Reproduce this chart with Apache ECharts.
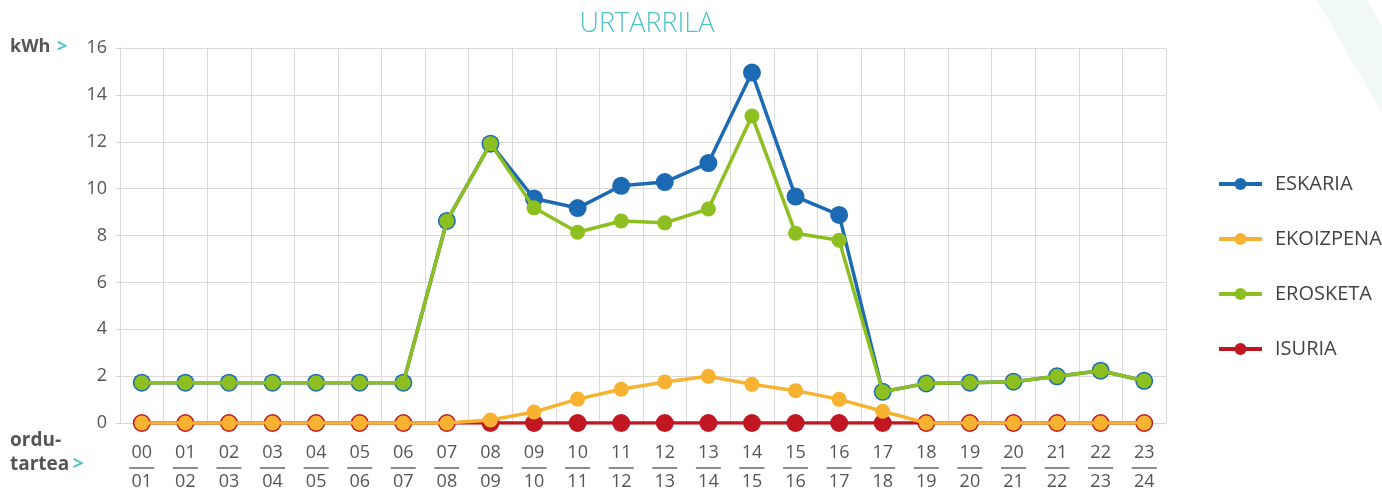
<!DOCTYPE html>
<html>
<head>
<meta charset="utf-8">
<script src="https://cdn.jsdelivr.net/npm/echarts@6/dist/echarts.min.js"></script>
<style>html,body{margin:0;padding:0;background:#fff}#c{width:1382px;height:492px}</style>
</head>
<body>
<div id="c"></div>
<script>
var categories = ['00','01','02','03','04','05','06','07','08','09','10','11','12','13','14','15','16','17','18','19','20','21','22','23'];
var categoriesEnd = ['01','02','03','04','05','06','07','08','09','10','11','12','13','14','15','16','17','18','19','20','21','22','23','24'];
var eskaria = [1.72,1.72,1.72,1.72,1.72,1.72,1.72,8.62,11.92,9.58,9.17,10.12,10.28,11.09,14.95,9.66,8.88,1.33,1.69,1.72,1.76,1.99,2.23,1.8];
var ekoizpena = [0,0,0,0,0,0,0,0,0.13,0.47,1.02,1.44,1.75,1.99,1.65,1.38,1.01,0.5,0,0,0,0,0,0];
var erosketa = [1.72,1.72,1.72,1.72,1.72,1.72,1.72,8.62,11.92,9.18,8.14,8.62,8.54,9.13,13.1,8.1,7.8,1.33,1.69,1.72,1.76,1.99,2.23,1.8];
var isuria = [0,0,0,0,0,0,0,0,0,0,0,0,0,0,0,0,0,0,0,0,0,0,0,0];
var yTicks = [0,2,4,6,8,10,12,14,16];
var seriesNames = ['ESKARIA','EKOIZPENA','EROSKETA','ISURIA'];

var chart = echarts.init(document.getElementById('c'));
var FONT = '"Open Sans", "Noto Sans", sans-serif';
function lineSeries(name, data, color, size, z) {
  return {
    name: name, type: 'line', data: data, z: z,
    symbol: 'circle', symbolSize: size,
    lineStyle: {color: color, width: 3.5},
    itemStyle: {color: color, borderWidth: 0},
    emphasis: {disabled: true},
    animation: false
  };
}
chart.setOption({
  animation: false,
  title: {
    text: 'URTARRILA', left: 642, top: 6, textAlign: 'center',
    textStyle: {color: '#4fc3c6', fontSize: 27, fontWeight: 300, fontFamily: FONT}
  },
  legend: {
    orient: 'vertical', left: 1212, top: 169, itemGap: 35,
    itemWidth: 43, itemHeight: 15,
    data: seriesNames,
    lineStyle: {width: 4},
    textStyle: {color: '#444', fontSize: 20, fontFamily: FONT, padding: [0,0,0,8]}
  },
  grid: {left: 120, right: 216, top: 48, bottom: 69, containLabel: false},
  xAxis: {
    type: 'category', data: categories, boundaryGap: true,
    axisLine: {show: true, lineStyle: {color: '#d6d6d6', width: 1}},
    axisTick: {show: false},
    splitLine: {show: true, interval: 0, lineStyle: {color: '#dadada', width: 1}},
    axisLabel: {
      interval: 0, margin: 20,
      formatter: function (v, i) { return '{a|' + v + '}\n{l| }\n{b|' + categoriesEnd[i] + '}'; },
      rich: {
        a: {fontSize: 18, lineHeight: 20, color: '#555', fontFamily: FONT, align: 'center'},
        l: {width: 25, height: 2, lineHeight: 10, fontSize: 1, backgroundColor: '#8a8a8a', align: 'center'},
        b: {fontSize: 18, lineHeight: 18, color: '#555', fontFamily: FONT, align: 'center'}
      }
    }
  },
  yAxis: {
    type: 'value', min: 0, max: 16, interval: 2,
    axisLine: {show: true, lineStyle: {color: '#dadada'}},
    axisTick: {show: true, length: 4, lineStyle: {color: '#d6d6d6'}},
    splitLine: {show: true, lineStyle: {color: '#dadada', width: 1}},
    axisLabel: {
      margin: 13, color: '#555', fontSize: 18, fontFamily: FONT,
      formatter: function (v) { return yTicks.indexOf(v) >= 0 ? String(v) : ''; }
    }
  },
  series: [
    lineSeries('ESKARIA', eskaria, '#1c6ab3', 18, 2),
    lineSeries('EKOIZPENA', ekoizpena, '#f8b232', 15, 5),
    lineSeries('EROSKETA', erosketa, '#8cbf1f', 15, 3),
    lineSeries('ISURIA', isuria, '#c01722', 18, 4)
  ],
  graphic: [
    {type: 'polygon', silent: true, z: -10,
      shape: {points: [[1317,0],[1367,0],[1382,26],[1382,113]]},
      style: {fill: '#f0f8f8'}},
    {type: 'text', left: 10, top: 38, silent: true,
      style: {text: '{b|kWh}  {t|>}', rich: {
        b: {fontSize: 18, fontWeight: 'bold', fill: '#555', fontFamily: FONT},
        t: {fontSize: 18, fontWeight: 'bold', fill: '#4fc3c6', fontFamily: FONT}}}},
    {type: 'text', left: 10, top: 431, silent: true,
      style: {text: '{b|ordu-}\n{b|tartea} {t|>}', rich: {
        b: {fontSize: 19, fontWeight: 'bold', fill: '#555', fontFamily: FONT, lineHeight: 24},
        t: {fontSize: 19, fontWeight: 'bold', fill: '#4fc3c6', fontFamily: FONT, lineHeight: 24}}}}
  ]
});
</script>
</body>
</html>
